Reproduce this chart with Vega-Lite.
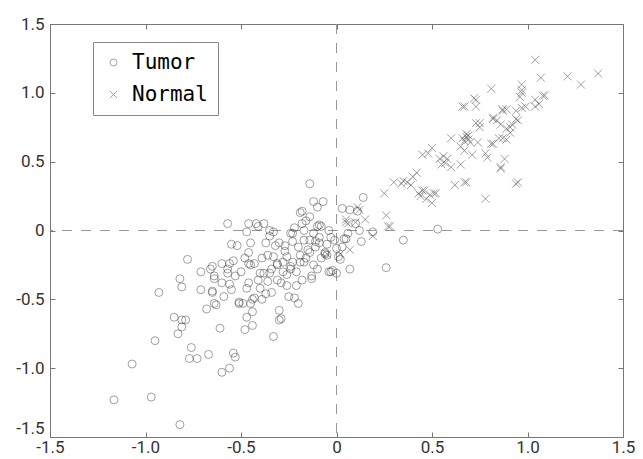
{
  "$schema": "https://vega.github.io/schema/vega-lite/v6.json",
  "width": 573,
  "height": 413,
  "autosize": "none",
  "padding": {"left": 50, "top": 24, "right": 20, "bottom": 22},
  "background": "white",
  "config": {
    "view": {"stroke": "#777", "strokeWidth": 1},
    "axis": {
      "grid": false,
      "domain": false,
      "tickColor": "#777",
      "labelFont": "Roboto",
      "labelFontSize": 17,
      "labelColor": "#333",
      "titleFontSize": 0
    }
  },
  "layer": [
    {
      "data": {"values": [{"v": 0}]},
      "mark": {"type": "rule", "color": "#999", "strokeWidth": 1, "strokeDash": [10, 9]},
      "encoding": {
        "x": {"field": "v", "type": "quantitative", "scale": {"domain": [-1.5, 1.5], "nice": false, "zero": false},
              "axis": {"orient": "top", "labels": false, "tickSize": -5, "values": [-1.5, -1, -0.5, 0, 0.5, 1, 1.5], "title": null}}
      }
    },
    {
      "data": {"values": [{"v": 0}]},
      "mark": {"type": "rule", "color": "#999", "strokeWidth": 1, "strokeDash": [10, 9]},
      "encoding": {
        "y": {"field": "v", "type": "quantitative", "scale": {"domain": [-1.5, 1.5], "nice": false, "zero": false},
              "axis": {"orient": "right", "labels": false, "tickSize": -5, "values": [-1.5, -1, -0.5, 0, 0.5, 1, 1.5], "title": null}}
      }
    },
    {
      "data": {"values": [
        {"type":"Tumor","x":-1.165,"y":-1.23},{"type":"Tumor","x":-1.07,"y":-0.97},{"type":"Tumor","x":-0.97,"y":-1.21},{"type":"Tumor","x":-0.82,"y":-1.41},
        {"type":"Tumor","x":-0.95,"y":-0.80},{"type":"Tumor","x":-0.93,"y":-0.45},{"type":"Tumor","x":-0.78,"y":-0.21},{"type":"Tumor","x":-0.82,"y":-0.35},
        {"type":"Tumor","x":-0.81,"y":-0.41},{"type":"Tumor","x":-0.85,"y":-0.63},{"type":"Tumor","x":-0.83,"y":-0.75},{"type":"Tumor","x":-0.81,"y":-0.65},
        {"type":"Tumor","x":-0.79,"y":-0.65},{"type":"Tumor","x":-0.81,"y":-0.70},{"type":"Tumor","x":-0.76,"y":-0.85},{"type":"Tumor","x":-0.77,"y":-0.93},
        {"type":"Tumor","x":-0.73,"y":-0.93},{"type":"Tumor","x":-0.67,"y":-0.90},{"type":"Tumor","x":-0.71,"y":-0.43},{"type":"Tumor","x":-0.71,"y":-0.30},
        {"type":"Tumor","x":-0.68,"y":-0.57},{"type":"Tumor","x":-0.66,"y":-0.28},{"type":"Tumor","x":-0.65,"y":-0.44},{"type":"Tumor","x":-0.64,"y":-0.35},
        {"type":"Tumor","x":-0.63,"y":-0.54},{"type":"Tumor","x":-0.61,"y":-0.71},{"type":"Tumor","x":-0.60,"y":-0.24},{"type":"Tumor","x":-0.60,"y":-1.03},
        {"type":"Tumor","x":-0.56,"y":-1.00},{"type":"Tumor","x":-0.60,"y":-0.38},{"type":"Tumor","x":-0.59,"y":-0.48},{"type":"Tumor","x":-0.56,"y":-0.39},
        {"type":"Tumor","x":-0.57,"y":-0.31},{"type":"Tumor","x":-0.56,"y":-0.24},{"type":"Tumor","x":-0.54,"y":-0.22},{"type":"Tumor","x":-0.55,"y":-0.43},
        {"type":"Tumor","x":-0.53,"y":-0.33},{"type":"Tumor","x":-0.52,"y":-0.11},{"type":"Tumor","x":-0.54,"y":-0.89},{"type":"Tumor","x":-0.53,"y":-0.92},
        {"type":"Tumor","x":-0.51,"y":-0.53},{"type":"Tumor","x":-0.49,"y":-0.53},{"type":"Tumor","x":-0.48,"y":-0.72},{"type":"Tumor","x":-0.47,"y":-0.63},
        {"type":"Tumor","x":-0.47,"y":-0.42},{"type":"Tumor","x":-0.46,"y":-0.38},{"type":"Tumor","x":-0.46,"y":-0.24},{"type":"Tumor","x":-0.46,"y":-0.16},
        {"type":"Tumor","x":-0.47,"y":-0.01},{"type":"Tumor","x":-0.45,"y":-0.09},{"type":"Tumor","x":-0.46,"y":0.05},{"type":"Tumor","x":-0.44,"y":-0.69},
        {"type":"Tumor","x":-0.44,"y":-0.59},{"type":"Tumor","x":-0.44,"y":-0.50},{"type":"Tumor","x":-0.45,"y":-0.53},{"type":"Tumor","x":-0.43,"y":-0.49},
        {"type":"Tumor","x":-0.43,"y":-0.24},{"type":"Tumor","x":-0.42,"y":0.05},{"type":"Tumor","x":-0.41,"y":0.03},{"type":"Tumor","x":-0.38,"y":0.05},
        {"type":"Tumor","x":-0.35,"y":-0.04},{"type":"Tumor","x":-0.41,"y":-0.36},{"type":"Tumor","x":-0.40,"y":-0.42},{"type":"Tumor","x":-0.39,"y":-0.50},
        {"type":"Tumor","x":-0.37,"y":-0.09},{"type":"Tumor","x":-0.36,"y":-0.18},{"type":"Tumor","x":-0.38,"y":-0.31},{"type":"Tumor","x":-0.36,"y":-0.37},
        {"type":"Tumor","x":-0.33,"y":-0.77},{"type":"Tumor","x":-0.34,"y":-0.45},{"type":"Tumor","x":-0.32,"y":-0.11},{"type":"Tumor","x":-0.30,"y":-0.58},
        {"type":"Tumor","x":-0.29,"y":-0.64},{"type":"Tumor","x":-0.31,"y":-0.24},{"type":"Tumor","x":-0.31,"y":-0.36},{"type":"Tumor","x":-0.27,"y":-0.11},
        {"type":"Tumor","x":-0.26,"y":-0.32},{"type":"Tumor","x":-0.25,"y":-0.48},{"type":"Tumor","x":-0.22,"y":-0.49},{"type":"Tumor","x":-0.20,"y":-0.53},
        {"type":"Tumor","x":-0.23,"y":-0.02},{"type":"Tumor","x":-0.21,"y":-0.40},{"type":"Tumor","x":-0.13,"y":-0.35},{"type":"Tumor","x":-0.14,"y":-0.16},
        {"type":"Tumor","x":-0.24,"y":-0.26},{"type":"Tumor","x":-0.23,"y":-0.23},{"type":"Tumor","x":-0.19,"y":-0.23},{"type":"Tumor","x":-0.28,"y":-0.23},
        {"type":"Tumor","x":-0.29,"y":-0.38},{"type":"Tumor","x":-0.17,"y":-0.07},{"type":"Tumor","x":-0.12,"y":-0.02},{"type":"Tumor","x":-0.09,"y":-0.09},
        {"type":"Tumor","x":-0.10,"y":0.03},{"type":"Tumor","x":-0.06,"y":-0.17},{"type":"Tumor","x":-0.04,"y":-0.30},{"type":"Tumor","x":-0.57,"y":0.05},
        {"type":"Tumor","x":-0.35,"y":0.00},{"type":"Tumor","x":-0.14,"y":0.34},{"type":"Tumor","x":-0.12,"y":0.21},{"type":"Tumor","x":-0.07,"y":0.21},
        {"type":"Tumor","x":-0.10,"y":0.17},{"type":"Tumor","x":-0.19,"y":0.13},{"type":"Tumor","x":-0.18,"y":0.14},{"type":"Tumor","x":-0.14,"y":0.10},
        {"type":"Tumor","x":-0.08,"y":0.03},{"type":"Tumor","x":-0.17,"y":0.00},{"type":"Tumor","x":0.14,"y":0.24},{"type":"Tumor","x":0.03,"y":0.16},
        {"type":"Tumor","x":0.07,"y":0.15},{"type":"Tumor","x":0.11,"y":0.14},{"type":"Tumor","x":0.10,"y":0.05},{"type":"Tumor","x":0.12,"y":0.00},
        {"type":"Tumor","x":0.53,"y":0.01},{"type":"Tumor","x":0.35,"y":-0.07},{"type":"Tumor","x":0.26,"y":-0.27},{"type":"Tumor","x":0.07,"y":-0.28},
        {"type":"Tumor","x":0.13,"y":-0.08},{"type":"Tumor","x":-0.03,"y":-0.30},{"type":"Tumor","x":0.00,"y":-0.31},{"type":"Tumor","x":0.01,"y":-0.19},
        {"type":"Tumor","x":-0.05,"y":-0.18},{"type":"Tumor","x":0.02,"y":-0.21},{"type":"Tumor","x":0.05,"y":-0.06},{"type":"Tumor","x":0.06,"y":-0.02},
        {"type":"Tumor","x":-0.04,"y":0.00},{"type":"Tumor","x":-0.09,"y":-0.05},{"type":"Tumor","x":-0.18,"y":0.05},{"type":"Tumor","x":-0.09,"y":0.04},
        {"type":"Tumor","x":-0.33,"y":-0.01},{"type":"Tumor","x":-0.24,"y":-0.02},{"type":"Tumor","x":-0.03,"y":-0.05},{"type":"Tumor","x":-0.30,"y":-0.09},
        {"type":"Tumor","x":-0.23,"y":-0.08},{"type":"Tumor","x":-0.14,"y":-0.07},{"type":"Tumor","x":-0.11,"y":-0.08},{"type":"Tumor","x":0.00,"y":-0.13},
        {"type":"Tumor","x":-0.15,"y":-0.14},{"type":"Tumor","x":-0.11,"y":-0.12},{"type":"Tumor","x":-0.33,"y":-0.19},{"type":"Tumor","x":-0.26,"y":-0.19},
        {"type":"Tumor","x":-0.19,"y":-0.18},{"type":"Tumor","x":-0.06,"y":-0.16},{"type":"Tumor","x":-0.31,"y":-0.25},{"type":"Tumor","x":-0.24,"y":-0.28},
        {"type":"Tumor","x":-0.17,"y":-0.23},{"type":"Tumor","x":-0.02,"y":-0.29},{"type":"Tumor","x":-0.13,"y":-0.33},{"type":"Tumor","x":-0.65,"y":-0.26},
        {"type":"Tumor","x":-0.64,"y":-0.33},{"type":"Tumor","x":-0.57,"y":-0.28},{"type":"Tumor","x":-0.65,"y":-0.45},{"type":"Tumor","x":-0.64,"y":-0.53},
        {"type":"Tumor","x":-0.51,"y":-0.52},{"type":"Tumor","x":-0.37,"y":-0.46},{"type":"Tumor","x":-0.45,"y":-0.25},{"type":"Tumor","x":-0.40,"y":-0.31},
        {"type":"Tumor","x":-0.35,"y":-0.31},{"type":"Tumor","x":-0.30,"y":-0.65},{"type":"Tumor","x":-0.20,"y":-0.12},{"type":"Tumor","x":-0.16,"y":-0.20},
        {"type":"Tumor","x":-0.12,"y":-0.25},{"type":"Tumor","x":-0.08,"y":-0.20},{"type":"Tumor","x":-0.21,"y":-0.30},{"type":"Tumor","x":-0.18,"y":-0.36},
        {"type":"Tumor","x":-0.26,"y":-0.40},{"type":"Tumor","x":-0.10,"y":-0.28},{"type":"Tumor","x":-0.05,"y":-0.10},{"type":"Tumor","x":-0.01,"y":-0.07},
        {"type":"Tumor","x":0.03,"y":-0.12},{"type":"Tumor","x":-0.22,"y":0.02},{"type":"Tumor","x":-0.16,"y":0.07},{"type":"Tumor","x":-0.27,"y":-0.15},
        {"type":"Tumor","x":-0.34,"y":-0.28},{"type":"Tumor","x":-0.39,"y":-0.20},{"type":"Tumor","x":-0.28,"y":-0.30},{"type":"Tumor","x":-0.55,"y":-0.10},
        {"type":"Tumor","x":-0.50,"y":-0.30},{"type":"Tumor","x":-0.48,"y":-0.20},{"type":"Tumor","x":0.19,"y":-0.01},{"type":"Tumor","x":0.04,"y":-0.06},
        {"type":"Normal","x":1.04,"y":1.24},{"type":"Normal","x":1.07,"y":1.11},{"type":"Normal","x":1.21,"y":1.12},{"type":"Normal","x":1.28,"y":1.06},
        {"type":"Normal","x":1.37,"y":1.14},{"type":"Normal","x":0.81,"y":1.03},{"type":"Normal","x":0.97,"y":1.06},{"type":"Normal","x":0.96,"y":0.97},
        {"type":"Normal","x":0.97,"y":1.00},{"type":"Normal","x":1.09,"y":0.98},{"type":"Normal","x":1.06,"y":0.92},{"type":"Normal","x":1.04,"y":0.95},
        {"type":"Normal","x":0.97,"y":0.89},{"type":"Normal","x":0.99,"y":0.90},{"type":"Normal","x":0.94,"y":0.87},{"type":"Normal","x":0.72,"y":0.96},
        {"type":"Normal","x":0.73,"y":0.90},{"type":"Normal","x":0.67,"y":0.90},{"type":"Normal","x":0.87,"y":0.87},{"type":"Normal","x":0.89,"y":0.88},
        {"type":"Normal","x":0.82,"y":0.81},{"type":"Normal","x":0.84,"y":0.80},{"type":"Normal","x":0.73,"y":0.78},{"type":"Normal","x":0.75,"y":0.75},
        {"type":"Normal","x":0.86,"y":0.77},{"type":"Normal","x":0.89,"y":0.74},{"type":"Normal","x":0.92,"y":0.77},{"type":"Normal","x":0.94,"y":0.81},
        {"type":"Normal","x":0.91,"y":0.71},{"type":"Normal","x":0.87,"y":0.67},{"type":"Normal","x":0.82,"y":0.63},{"type":"Normal","x":0.68,"y":0.68},
        {"type":"Normal","x":0.69,"y":0.66},{"type":"Normal","x":0.70,"y":0.64},{"type":"Normal","x":0.60,"y":0.67},{"type":"Normal","x":0.74,"y":0.64},
        {"type":"Normal","x":0.65,"y":0.61},{"type":"Normal","x":0.67,"y":0.58},{"type":"Normal","x":0.78,"y":0.56},{"type":"Normal","x":0.79,"y":0.53},
        {"type":"Normal","x":0.71,"y":0.55},{"type":"Normal","x":0.88,"y":0.52},{"type":"Normal","x":0.86,"y":0.45},{"type":"Normal","x":0.95,"y":0.35},
        {"type":"Normal","x":0.78,"y":0.23},{"type":"Normal","x":0.68,"y":0.35},{"type":"Normal","x":0.62,"y":0.33},{"type":"Normal","x":0.65,"y":0.48},
        {"type":"Normal","x":0.60,"y":0.46},{"type":"Normal","x":0.57,"y":0.49},{"type":"Normal","x":0.54,"y":0.52},{"type":"Normal","x":0.56,"y":0.54},
        {"type":"Normal","x":0.50,"y":0.60},{"type":"Normal","x":0.48,"y":0.56},{"type":"Normal","x":0.42,"y":0.42},{"type":"Normal","x":0.40,"y":0.39},
        {"type":"Normal","x":0.30,"y":0.35},{"type":"Normal","x":0.34,"y":0.34},{"type":"Normal","x":0.37,"y":0.35},{"type":"Normal","x":0.39,"y":0.33},
        {"type":"Normal","x":0.25,"y":0.27},{"type":"Normal","x":0.46,"y":0.29},{"type":"Normal","x":0.44,"y":0.25},{"type":"Normal","x":0.43,"y":0.27},
        {"type":"Normal","x":0.52,"y":0.27},{"type":"Normal","x":0.50,"y":0.20},{"type":"Normal","x":0.47,"y":0.23},{"type":"Normal","x":0.26,"y":0.11},
        {"type":"Normal","x":0.27,"y":0.03},{"type":"Normal","x":0.05,"y":0.06},{"type":"Normal","x":0.15,"y":0.08},{"type":"Normal","x":0.11,"y":0.17},
        {"type":"Normal","x":0.19,"y":-0.04},{"type":"Normal","x":0.28,"y":0.03},{"type":"Normal","x":0.02,"y":-0.17},{"type":"Normal","x":-0.05,"y":-0.17},
        {"type":"Normal","x":0.10,"y":0.06},{"type":"Normal","x":0.06,"y":0.05},{"type":"Normal","x":0.66,"y":0.67},{"type":"Normal","x":0.68,"y":0.70},
        {"type":"Normal","x":0.67,"y":0.65},{"type":"Normal","x":0.69,"y":0.69},{"type":"Normal","x":0.66,"y":0.90},{"type":"Normal","x":0.73,"y":0.95},
        {"type":"Normal","x":0.75,"y":0.78},{"type":"Normal","x":0.81,"y":0.63},{"type":"Normal","x":0.85,"y":0.67},{"type":"Normal","x":0.86,"y":0.46},
        {"type":"Normal","x":0.87,"y":0.88},{"type":"Normal","x":0.82,"y":0.82},{"type":"Normal","x":0.67,"y":0.35},{"type":"Normal","x":0.45,"y":0.29},
        {"type":"Normal","x":0.49,"y":0.26},{"type":"Normal","x":0.51,"y":0.27},{"type":"Normal","x":0.94,"y":0.34},{"type":"Normal","x":0.95,"y":0.80},
        {"type":"Normal","x":0.91,"y":0.75},{"type":"Normal","x":0.89,"y":0.66},{"type":"Normal","x":1.08,"y":0.98},{"type":"Normal","x":1.04,"y":0.90},
        {"type":"Normal","x":0.97,"y":1.02},{"type":"Normal","x":0.12,"y":0.15},{"type":"Normal","x":0.45,"y":0.55},{"type":"Normal","x":0.58,"y":0.52},
        {"type":"Normal","x":0.55,"y":0.48},{"type":"Normal","x":0.35,"y":0.36},{"type":"Normal","x":0.05,"y":0.08},{"type":"Normal","x":0.07,"y":-0.14}
      ]},
      "mark": {"type": "point", "filled": false, "stroke": "#333", "strokeOpacity": 0.65, "strokeWidth": 1, "size": 64},
      "encoding": {
        "x": {"field": "x", "type": "quantitative", "scale": {"domain": [-1.5, 1.5], "nice": false, "zero": false},
              "axis": {"orient": "bottom", "tickSize": -5, "labelPadding": 7, "values": [-1.5, -1, -0.5, 0, 0.5, 1, 1.5],
                       "labelExpr": "datum.value == 0 ? '0' : (datum.value < 0 ? '-' : '') + format(abs(datum.value), '.1f')", "title": null, "labelFlush": false}},
        "y": {"field": "y", "type": "quantitative", "scale": {"domain": [-1.5, 1.5], "nice": false, "zero": false},
              "axis": {"orient": "left", "tickSize": -5, "labelPadding": 11, "values": [-1.5, -1, -0.5, 0, 0.5, 1, 1.5],
                       "labelBaseline": {"condition": {"test": "datum.value == -1.5", "value": "bottom"}, "value": "middle"},
                       "labelExpr": "datum.value == 0 ? '0' : (datum.value < 0 ? '-' : '') + format(abs(datum.value), '.1f')", "title": null, "labelFlush": false}},
        "shape": {"field": "type", "type": "nominal",
                  "scale": {"domain": ["Tumor", "Normal"], "range": ["circle", "M-1,-1L1,1M-1,1L1,-1"]},
                  "legend": {"orient": "none", "legendX": 43, "legendY": 18, "title": null,
                             "strokeColor": "#888", "fillColor": "white", "padding": 10,
                             "labelFont": "DejaVu Sans Mono", "labelFontSize": 21, "labelColor": "#000",
                             "symbolSize": 50, "symbolStrokeColor": "#777", "symbolStrokeWidth": 1,
                             "rowPadding": 10, "labelOffset": 8, "cornerRadius": 0}}
      }
    }
  ]
}
